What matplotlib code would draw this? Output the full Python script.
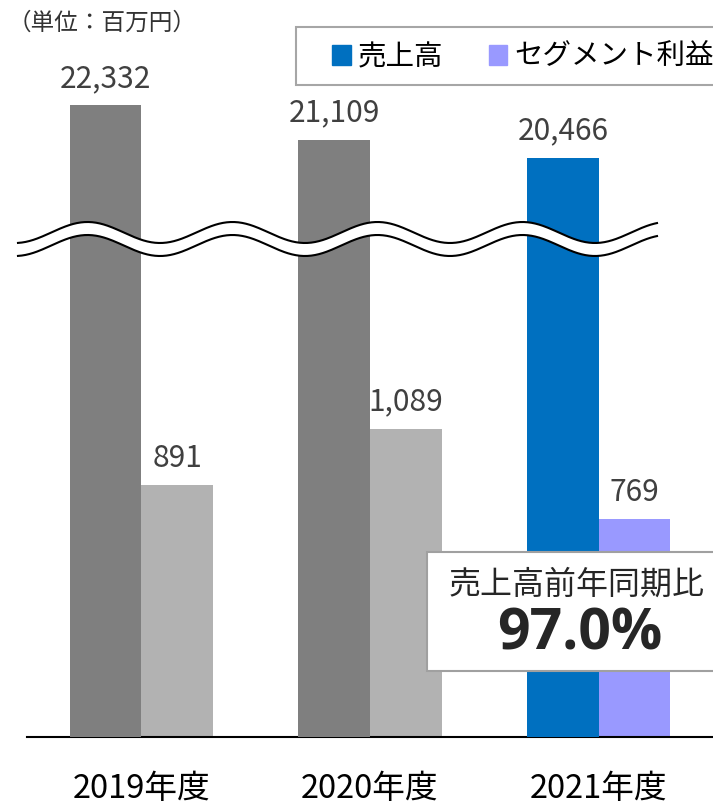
import matplotlib
matplotlib.use('Agg')
import matplotlib.pyplot as plt
import matplotlib.transforms as mtransforms
from matplotlib.patches import Rectangle, Polygon, Patch
from matplotlib.lines import Line2D
import numpy as np

plt.rcParams['font.family'] = ['Noto Sans CJK JP', 'DejaVu Sans']

# Data (unit: million yen)
years = ['2019年度', '2020年度', '2021年度']
sales = [22332, 21109, 20466]
profit = [891, 1089, 769]
series_names = ['売上高', 'セグメント利益']
sales_colors = ['#7f7f7f', '#7f7f7f', '#0070c0']
profit_colors = ['#b2b2b2', '#b2b2b2', '#9999ff']

W, H = 713, 806
fig = plt.figure(figsize=(W / 100, H / 100), dpi=100)

# pixel-space transform (origin top-left) for decorations
px = mtransforms.Affine2D().scale(1 / W, -1 / H).translate(0, 1) + fig.transFigure

ax = fig.add_axes([27 / W, 69 / H, (W - 27) / W, 737 / H])
ax2 = ax.twinx()

x = np.arange(len(years))
bw = 0.313
ax2.bar(x - bw / 2, sales, bw, color=sales_colors, zorder=2)
ax.bar(x + bw / 2, profit, bw, color=profit_colors, zorder=2)

# sales drawn at one tenth of the profit scale (broken axis)
ax.set_ylim(0, 2604)
ax2.set_ylim(0, 26040)
ax.set_xlim(-0.5, 2.5)

for a in (ax, ax2):
    for s in ('top', 'right', 'left'):
        a.spines[s].set_visible(False)
    a.set_yticks([])
ax2.spines['bottom'].set_visible(False)
ax.spines['bottom'].set_linewidth(1.5)
ax.spines['bottom'].set_color('black')

ax.set_xticks(x, years)
ax.tick_params(axis='x', length=0, pad=26, labelsize=23.5, labelcolor='black')

lab_kw = dict(textcoords='offset points', ha='center', va='baseline',
              fontsize=21.5, color='#404040')
for xi, v in zip(x, sales):
    ax2.annotate(f'{v:,}', (xi - bw / 2, v), xytext=(0, 13), **lab_kw)
for xi, v in zip(x, profit):
    ax.annotate(f'{v:,}', (xi + bw / 2, v), xytext=(0, 13), **lab_kw)

# wavy break band across the sales bars
xs = np.linspace(18, 657, 500)
yu = 232.5 + 10.5 * np.cos(2 * np.pi * (xs - 15) / 145)
yl = yu + 13
band = np.vstack([np.column_stack([xs, yu]), np.column_stack([xs[::-1], yl[::-1]])])
fig.add_artist(Polygon(band, closed=True, transform=px, facecolor='white',
                       edgecolor='none', zorder=3))
for yy in (yu, yl):
    fig.add_artist(Line2D(xs, yy, transform=px, color='black', lw=1.5, zorder=4))

# unit note
fig.text(102 / W, 1 - 23 / H, '（単位：百万円）', ha='center', va='center',
         fontsize=17, color='#333333')

# legend
fig.add_artist(Rectangle((296, 27), 460, 58, transform=px, facecolor='white',
                         edgecolor='#a6a6a6', lw=1.5, zorder=3))
handles = [Patch(color=sales_colors[-1]), Patch(color=profit_colors[-1])]
leg = fig.legend(handles, series_names, loc='center left',
                 bbox_to_anchor=(332 / W, 1 - 57 / H), frameon=False, ncol=2,
                 fontsize=20.5, handlelength=0.65, handleheight=0.65,
                 handletextpad=0.25, columnspacing=1.6, borderpad=0,
                 borderaxespad=0)
leg.set_zorder(5)

# year-on-year sales callout
ratio = sales[-1] / sales[-2] * 100
fig.add_artist(Rectangle((427, 552), 320, 119, transform=px, facecolor='white',
                         edgecolor='#a0a0a0', lw=1.5, zorder=3))
fig.text(577 / W, 1 - 585 / H, '売上高前年同期比', ha='center', va='center',
         fontsize=23, color='#262626', zorder=5)
fig.text(580 / W, 1 - 634 / H, f'{ratio:.1f}%', ha='center', va='center',
         fontsize=41, fontweight='bold', color='#262626', zorder=5,
         family=['Open Sans', 'Roboto', 'DejaVu Sans'])

fig.savefig('out.png', dpi=100)
